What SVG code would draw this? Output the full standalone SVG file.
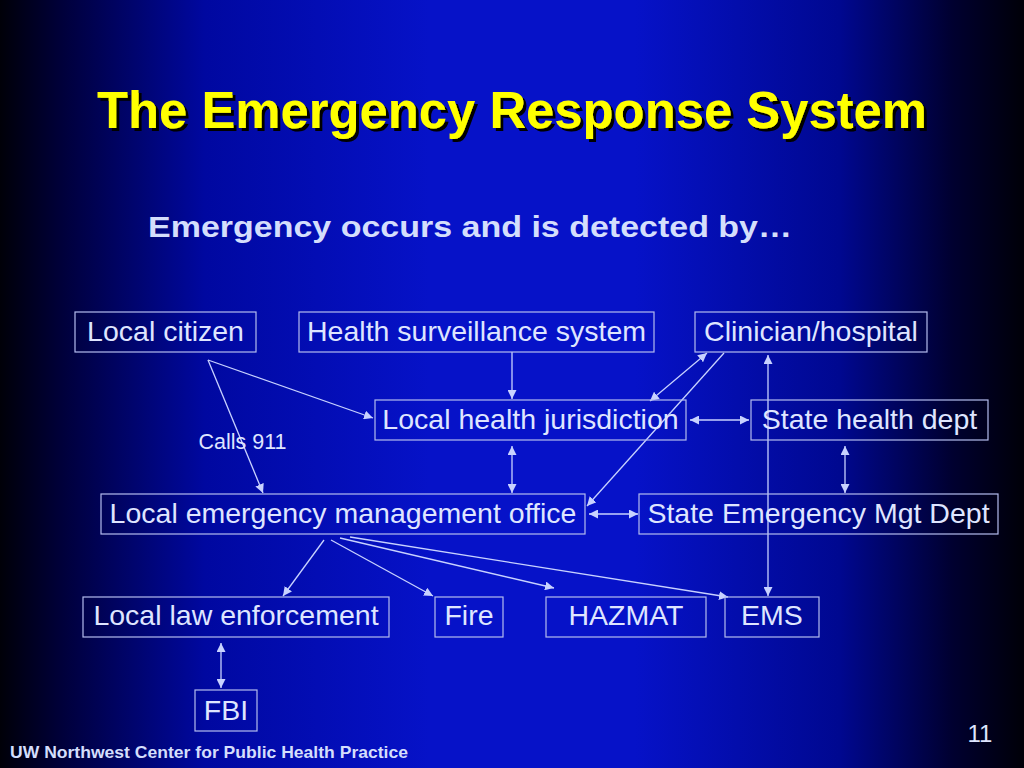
<svg xmlns="http://www.w3.org/2000/svg" width="1024" height="768" viewBox="0 0 1024 768">
<defs>
<linearGradient id="bg" x1="0" y1="0" x2="1" y2="0">
<stop offset="0" stop-color="#000008"/>
<stop offset="0.06" stop-color="#00003a"/>
<stop offset="0.2" stop-color="#0008a0"/>
<stop offset="0.42" stop-color="#0612c8"/>
<stop offset="0.62" stop-color="#0612c8"/>
<stop offset="0.82" stop-color="#000890"/>
<stop offset="0.93" stop-color="#000030"/>
<stop offset="1" stop-color="#000008"/>
</linearGradient>
<filter id="shadow" x="-5%" y="-20%" width="110%" height="140%">
<feDropShadow dx="3" dy="3" stdDeviation="0.5" flood-color="#000000" flood-opacity="1"/>
</filter>
<marker id="ah" viewBox="0 0 10 10" refX="10" refY="5" markerWidth="9" markerHeight="9" markerUnits="userSpaceOnUse" orient="auto-start-reverse">
<path d="M0,0 L10,5 L0,10 z" fill="#c8d2ff"/>
</marker>
</defs>
<style>
.box{fill:none;stroke:#b4bcee;stroke-width:1.2}
.lbl{font-family:"Liberation Sans",Arial,sans-serif;font-size:28.5px;fill:#dfe5ff;text-anchor:middle}
.con{stroke:#c8d2ff;stroke-width:1.3;fill:none}
.one{marker-end:url(#ah)}
.two{marker-start:url(#ah);marker-end:url(#ah)}
</style>
<rect width="1024" height="768" fill="url(#bg)"/>

<text id="title" x="512" y="128" font-family="Liberation Sans,Arial,sans-serif" font-weight="bold" font-size="52" fill="#ffff00" text-anchor="middle" textLength="830" lengthAdjust="spacingAndGlyphs" filter="url(#shadow)">The Emergency Response System</text>
<text id="subtitle" x="148" y="237" font-family="Liberation Sans,Arial,sans-serif" font-weight="bold" font-size="30" fill="#d4defc" textLength="644" lengthAdjust="spacingAndGlyphs">Emergency occurs and is detected by…</text>

<g id="connectors">
<line class="con one" x1="208" y1="360" x2="373" y2="418"/>
<line class="con one" x1="208" y1="360" x2="263" y2="493"/>
<line class="con one" x1="512" y1="352" x2="512" y2="399"/>
<line class="con two" x1="707" y1="353" x2="650" y2="401"/>
<line class="con one" x1="724" y1="353" x2="587" y2="506"/>
<line class="con two" x1="690" y1="420" x2="749" y2="420"/>
<line class="con two" x1="512" y1="446" x2="512" y2="493"/>
<line class="con two" x1="845" y1="446" x2="845" y2="493"/>
<line class="con two" x1="589" y1="514" x2="638" y2="514"/>
<line class="con two" x1="768" y1="355" x2="768" y2="596"/>
<line class="con one" x1="324" y1="540" x2="283" y2="596"/>
<line class="con one" x1="331" y1="540" x2="433" y2="596"/>
<line class="con one" x1="340" y1="538" x2="554" y2="588"/>
<line class="con one" x1="350" y1="537" x2="728" y2="597"/>
<line class="con two" x1="221" y1="643" x2="221" y2="688"/>
<text x="242.5" y="449" font-family="Liberation Sans,Arial,sans-serif" font-size="21.5" fill="#dfe5ff" text-anchor="middle">Calls 911</text>
</g>

<g id="local-citizen"><rect class="box" x="75" y="312" width="181" height="40"/><text class="lbl" x="165.5" y="341">Local citizen</text></g>
<g id="health-surveillance"><rect class="box" x="299" y="312" width="355" height="40"/><text class="lbl" x="476.5" y="341">Health surveillance system</text></g>
<g id="clinician"><rect class="box" x="695" y="312" width="232" height="40"/><text class="lbl" x="811" y="341">Clinician/hospital</text></g>
<g id="local-health"><rect class="box" x="375" y="400" width="311" height="40"/><text class="lbl" x="530.5" y="429">Local health jurisdiction</text></g>
<g id="state-health"><rect class="box" x="751" y="400" width="237" height="40"/><text class="lbl" x="869.5" y="429">State health dept</text></g>
<g id="local-emergency"><rect class="box" x="101" y="494" width="484" height="40"/><text class="lbl" x="343" y="523">Local emergency management office</text></g>
<g id="state-emergency"><rect class="box" x="639" y="494" width="359" height="40"/><text class="lbl" x="818.5" y="523">State Emergency Mgt Dept</text></g>
<g id="law"><rect class="box" x="83" y="597" width="306" height="40"/><text class="lbl" x="236" y="625">Local law enforcement</text></g>
<g id="fire"><rect class="box" x="435" y="597" width="68" height="40"/><text class="lbl" x="469" y="625">Fire</text></g>
<g id="hazmat"><rect class="box" x="546" y="597" width="160" height="40"/><text class="lbl" x="626" y="625">HAZMAT</text></g>
<g id="ems"><rect class="box" x="725" y="597" width="94" height="40"/><text class="lbl" x="772" y="625">EMS</text></g>
<g id="fbi"><rect class="box" x="195" y="690" width="62" height="41"/><text class="lbl" x="226" y="720">FBI</text></g>

<text id="footer" x="10" y="758" font-family="Liberation Sans,Arial,sans-serif" font-weight="bold" font-size="17" fill="#d4defc" textLength="398" lengthAdjust="spacingAndGlyphs">UW Northwest Center for Public Health Practice</text>
<text id="page" x="980" y="742" font-family="Liberation Sans,Arial,sans-serif" font-size="24" fill="#dfe5ff" text-anchor="middle">11</text>
</svg>
